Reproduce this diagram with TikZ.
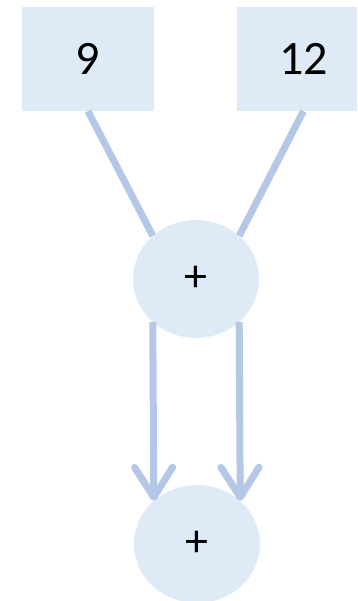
\documentclass[tikz,border=0pt]{standalone}
\usepackage{fontspec}
\setmainfont{Carlito}
\usepackage{tikz}
\usetikzlibrary{shapes.geometric,arrows.meta,positioning}

\definecolor{boxfill}{HTML}{DEEBF7}
\definecolor{linkblue}{HTML}{B4C7E7}

\begin{document}
\begin{tikzpicture}[
  x=1pt, y=1pt,
  numbox/.style={rectangle, fill=boxfill, minimum width=132pt,
                 minimum height=104pt, inner sep=0pt,
                 font=\fontsize{48}{58}\selectfont},
  opnode/.style={ellipse, fill=boxfill, minimum width=126pt,
                 minimum height=118pt, inner sep=0pt,
                 font=\fontsize{46}{55}\selectfont},
  link/.style={draw=linkblue, line width=7pt},
  arrow/.style={link, -{Straight Barb[length=30pt, width=38pt, round]}},
  node distance=83pt
]
  \useasboundingbox (0,0) rectangle (357,-601);
  \clip (0,0) rectangle (357,-601);

  % Operands
  \node[numbox] (nine) at (88,-59) {9};
  \node[numbox, right=of nine] (twelve) {12};

  % Operations
  \node[opnode] (sumA) at (196,-279) {+};
  \node[opnode] (sumB) at (197,-544) {+};

  % Links
  \draw[link] (nine.south) -- (sumA.135);
  \draw[link] (twelve.south) -- (sumA.45);
  \draw[arrow] (sumA.-135) -- (sumB.135);
  \draw[arrow] (sumA.-45) -- (sumB.45);
\end{tikzpicture}
\end{document}
